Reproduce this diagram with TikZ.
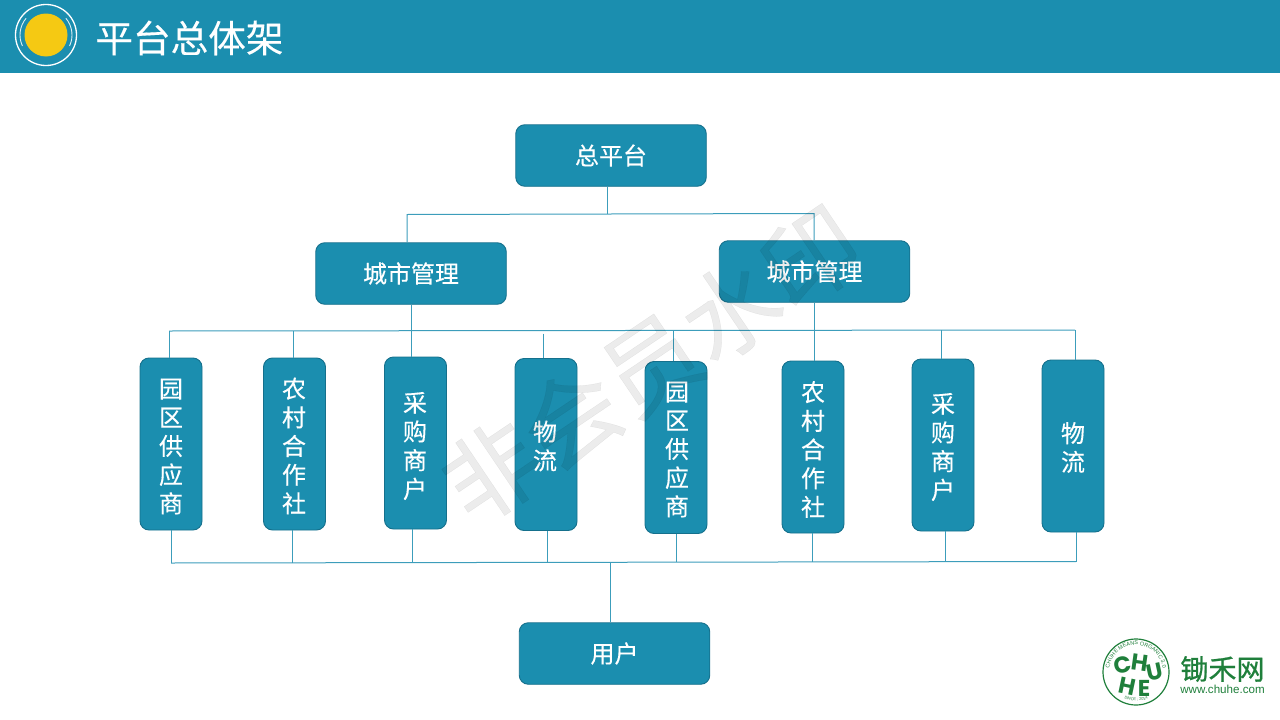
\documentclass[tikz,border=0pt]{standalone}
\usepackage{fontspec}
\setmainfont[FakeBold=0.3]{Noto Sans CJK SC}
\newfontfamily\brandfont[FakeBold=0.8]{Noto Sans CJK SC}
\newfontfamily\latinbold{Poppins}
\newfontfamily\latinreg{Liberation Sans}
\usetikzlibrary{decorations.text}
\definecolor{teal1}{HTML}{1B8EAF}
\definecolor{tealedge}{HTML}{15708C}
\definecolor{wire}{HTML}{3C9DBB}
\definecolor{sun}{HTML}{F5C913}
\definecolor{leaf}{HTML}{1F7F3B}
\tikzset{
  x=1pt,y=-1pt,
  boxbase/.style={draw=tealedge,line width=0.9pt,fill=teal1,rounded corners=9pt,inner sep=0pt,
    text=white,align=center},
  wide/.style={boxbase,minimum width=190.5pt,minimum height=61.5pt,font=\fontsize{24}{29}\selectfont},
  tall/.style={boxbase,minimum width=62pt,minimum height=172pt},
  stack/.style={text=white,align=center,inner sep=0pt,font=\fontsize{24}{28.7}\selectfont},
  conn/.style={draw=wire,line width=1pt},
  logoletter/.style={text=leaf,inner sep=0pt,font=\fontsize{23}{23}\latinbold\bfseries},
}
\begin{document}
\begin{tikzpicture}
\useasboundingbox (0,0) rectangle (1280,720);
% header
\fill[teal1] (0,0) rectangle (1280,73);
\coordinate (sunc) at (46,35);
\fill[sun] (sunc) circle[radius=21.5pt];
\draw[white,line width=1.3pt] (sunc) circle[radius=30.5pt];
\draw[white!85!teal1,line width=0.9pt] (46,35) ++(140:26pt) arc[start angle=140,end angle=205,radius=26pt];
\draw[white!85!teal1,line width=0.9pt] (46,35) ++(40:26pt) arc[start angle=40,end angle=-25,radius=26pt];
\node[anchor=center,text=white,inner sep=0pt,font=\fontsize{37.6}{38}\selectfont] (title) at (189.5,38) {平台总体架};
% boxes
\node[wide] (root) at (611,155.5) {\raisebox{-0.7pt}{总平台}};
\node[wide] (cityA) at (411,273.5) {\raisebox{-1.5pt}{城市管理}};
\node[wide] (cityB) at (814.5,271.5) {\raisebox{-0.8pt}{城市管理}};
\node[wide] (user) at (614.5,653.5) {用户};
\node[tall] (a1) at (171,444) {};
\node[tall] (a2) at (294.5,444) {};
\node[tall] (a3) at (415.5,443) {};
\node[tall] (a4) at (546,444.5) {};
\node[tall] (a5) at (676,447.5) {};
\node[tall] (a6) at (813,447) {};
\node[tall] (a7) at (943,445) {};
\node[tall] (a8) at (1073,446) {};
\node[stack] (t1) at (171,446.5) {园\\区\\供\\应\\商};
\node[stack] (t2) at (294,446) {农\\村\\合\\作\\社};
\node[stack] (t3) at (415,446) {采\\购\\商\\户};
\node[stack] (t4) at (545,446) {物\\流};
\node[stack] (t5) at (677,449.5) {园\\区\\供\\应\\商};
\node[stack] (t6) at (813,449.5) {农\\村\\合\\作\\社};
\node[stack] (t7) at (943,447) {采\\购\\商\\户};
\node[stack] (t8) at (1073,447.5) {物\\流};
% connectors: top bus
\coordinate (topL) at (407,214.5);
\coordinate (topM) at (607,214);
\coordinate (topR) at (814,213.5);
\draw[conn] (root.south -| topM) -- (topM);
\draw[conn] (topL |- cityA.north) -- (topL) -- (topR) -- (topR |- cityB.north);
% middle bus
\coordinate (m1) at (169,331);
\coordinate (m2) at (293,331);
\coordinate (m3) at (411,331);
\coordinate (m4) at (543,333.5);
\coordinate (m5) at (673,330.5);
\coordinate (m6) at (814,330);
\coordinate (m7) at (941,330);
\coordinate (m8) at (1075,330);
\draw[conn] (m1) -- (m8);
\draw[conn] (m3 |- cityA.south) -- (m3);
\draw[conn] (m6 |- cityB.south) -- (m6);
\draw[conn] (m1) -- (m1 |- a1.north);
\draw[conn] (m2) -- (m2 |- a2.north);
\draw[conn] (m3) -- (m3 |- a3.north);
\draw[conn] (m4) -- (m4 |- a4.north);
\draw[conn] (m5) -- (m5 |- a5.north);
\draw[conn] (m6) -- (m6 |- a6.north);
\draw[conn] (m7) -- (m7 |- a7.north);
\draw[conn] (m8) -- (m8 |- a8.north);
% bottom bus
\coordinate (b1) at (171,563);
\coordinate (b2) at (292,562.5);
\coordinate (b3) at (412,562.5);
\coordinate (b4) at (547,562.5);
\coordinate (b5) at (676,562);
\coordinate (b6) at (812,562);
\coordinate (b7) at (945,561.5);
\coordinate (b8) at (1076,561.5);
\coordinate (bU) at (610,562);
\draw[conn] (b1) -- (b8);
\draw[conn] (b1 |- a1.south) -- (b1);
\draw[conn] (b2 |- a2.south) -- (b2);
\draw[conn] (b3 |- a3.south) -- (b3);
\draw[conn] (b4 |- a4.south) -- (b4);
\draw[conn] (b5 |- a5.south) -- (b5);
\draw[conn] (b6 |- a6.south) -- (b6);
\draw[conn] (b7 |- a7.south) -- (b7);
\draw[conn] (b8 |- a8.south) -- (b8);
\draw[conn] (bU) -- (bU |- user.north);
% watermark
\node[rotate=34,text=black,text opacity=0.075,inner sep=0pt,font=\fontsize{96}{96}\selectfont] (mark) at (651,364) {非会员水印};
% logo
\coordinate (logoc) at (1136,672);
\draw[leaf,line width=1.2pt] (logoc) circle[radius=33pt];
\path[postaction={decorate},decoration={text along path,text align=center,
  text={|\fontsize{5.5}{6}\latinreg\color{leaf}|CHUHE MEANS ORGANIC 3.0}}]
  (1109.4,667.3) arc[start angle=170,end angle=10,radius=27pt];
\path[postaction={decorate},decoration={text along path,text align=center,
  text={|\fontsize{4}{5}\latinreg\color{leaf}|SINCE : 2014}}]
  (1119.4,695.8) arc[start angle=235,end angle=305,radius=29pt];
\node[logoletter,rotate=10] (lc) at (1123,665) {C};
\node[logoletter,rotate=-8] (lh) at (1140,663) {H};
\node[logoletter,rotate=12] (lu) at (1155,672) {U};
\node[logoletter,rotate=-12] (lh2) at (1127,686) {H};
\node[logoletter] (le) at (1144,688) {E};
\node[text=leaf,inner sep=0pt,font=\fontsize{28}{28}\brandfont] (brand) at (1222.5,669) {锄禾网};
\node[text=leaf,inner sep=0pt,font=\fontsize{11.6}{12}\latinreg] (url) at (1222.5,689) {www.chuhe.com};
\end{tikzpicture}
\end{document}
